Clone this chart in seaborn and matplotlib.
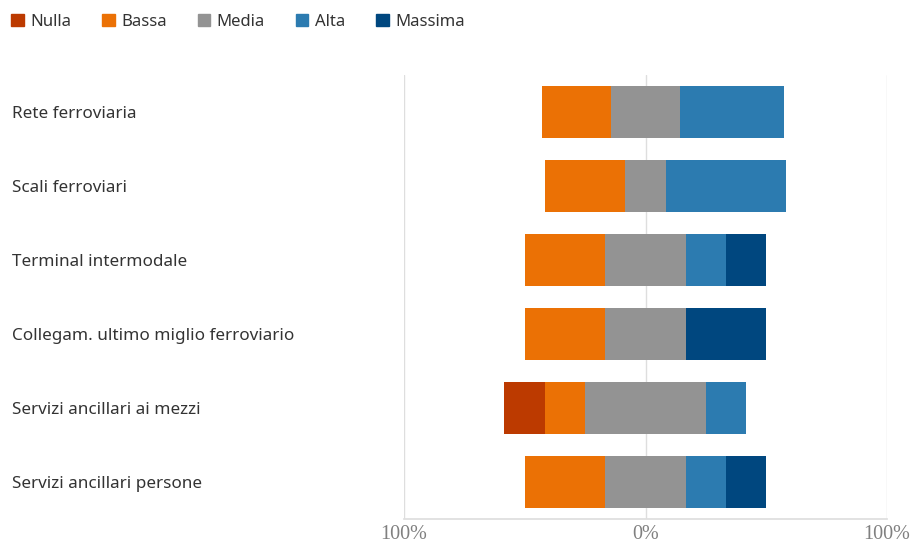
import matplotlib
matplotlib.use("Agg")
import matplotlib.pyplot as plt
import matplotlib.patches as mpatches
import seaborn as sns
import pandas as pd

categories = ["Rete ferroviaria", "Scali ferroviari", "Terminal intermodale",
              "Collegam. ultimo miglio ferroviario", "Servizi ancillari ai mezzi",
              "Servizi ancillari persone"]
nulla = [0, 0, 0, 0, 16.7, 0]
bassa = [28.6, 33.3, 33.3, 33.3, 16.7, 33.3]
media = [28.6, 16.7, 33.3, 33.3, 50.0, 33.3]
alta = [42.9, 50.0, 16.7, 0, 16.7, 16.7]
massima = [0, 0, 16.7, 33.3, 0, 16.7]
series = ["Nulla", "Bassa", "Media", "Alta", "Massima"]
tick_vals = [-100, 0, 100]
tick_labels = ["100%", "0%", "100%"]

colors = {"Nulla": "#BC3A00", "Bassa": "#EB7105", "Media": "#939393",
          "Alta": "#2C7BB0", "Massima": "#00477F"}

sns.set_theme(style="white")
plt.rcParams["font.family"] = ["Noto Sans", "DejaVu Sans"]

df = pd.DataFrame({"cat": categories, "Nulla": nulla, "Bassa": bassa, "Media": media,
                   "Alta": alta, "Massima": massima})
half = df["Media"] / 2
df["L_nulla"] = -(df["Nulla"] + df["Bassa"] + half)
df["L_bassa"] = -(df["Bassa"] + half)
df["L_media"] = -half
df["R_massima"] = half + df["Alta"] + df["Massima"]
df["R_alta"] = half + df["Alta"]
df["R_media"] = half

fig = plt.figure(figsize=(9.14, 5.44), dpi=100)
ax = fig.add_axes([404 / 914, 25 / 544, 483 / 914, 444 / 544])

layers = [("L_nulla", "Nulla"), ("L_bassa", "Bassa"), ("L_media", "Media"),
          ("R_massima", "Massima"), ("R_alta", "Alta"), ("R_media", "Media")]
for col, s in layers:
    sns.barplot(data=df, x=col, y="cat", order=categories, color=colors[s],
                saturation=1, width=0.69, linewidth=0, ax=ax, orient="h", zorder=3)

ax.set_xlim(-100, 100)
ax.set_ylim(5.5, -0.5)
ax.set_xticks(tick_vals)
ax.set_xticklabels(tick_labels, family="Liberation Serif", fontsize=14.5, color="#808080")
ax.grid(axis="x", color="#dedede", linewidth=1, zorder=0)
ax.set_axisbelow(True)
ax.set_xlabel("")
ax.set_ylabel("")
for sp in ["top", "left", "right"]:
    ax.spines[sp].set_visible(False)
ax.spines["bottom"].set_color("#dedede")
ax.tick_params(axis="x", length=0, pad=4)
ax.tick_params(axis="y", length=0, pad=(404 - 12) * 0.72)
for lbl in ax.get_yticklabels():
    lbl.set_ha("left")
    lbl.set_fontsize(12.3)
    lbl.set_color("#333333")

handles = [mpatches.Patch(color=colors[s], label=s) for s in series]
fig.legend(handles=handles, loc="upper left", bbox_to_anchor=(-4 / 914, 1 + 1 / 544),
           ncol=5, frameon=False, fontsize=12, handlelength=0.75, handleheight=0.75,
           handletextpad=0.4, columnspacing=1.85, labelcolor="#333333")

fig.savefig("out.png", dpi=100)
